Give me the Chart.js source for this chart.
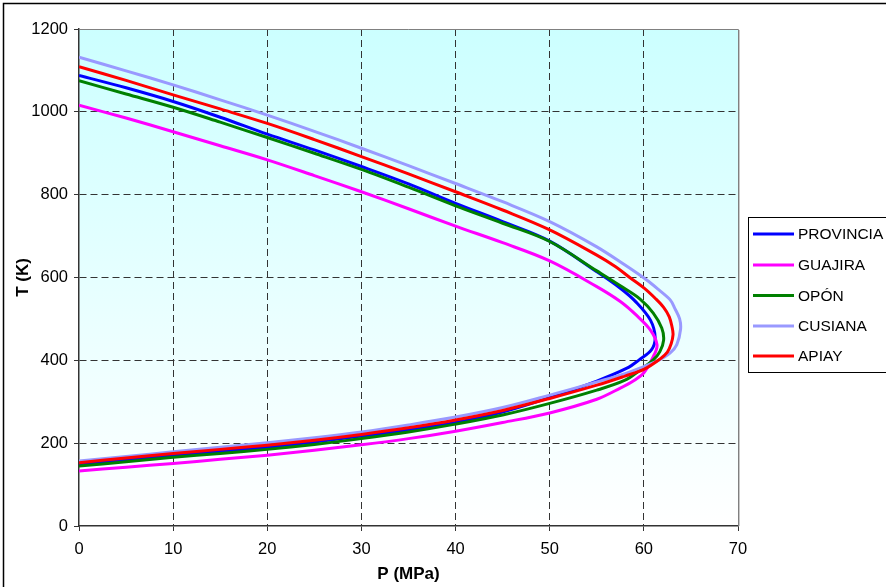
<!DOCTYPE html>
<html>
<head>
<meta charset="utf-8">
<script src="https://cdn.jsdelivr.net/npm/chart.js@4/dist/chart.umd.min.js"></script>
<style>
html,body{margin:0;padding:0;background:#fff;}
#wrap{width:886px;height:587px;}
</style>
</head>
<body>
<div id="wrap"><canvas id="c" width="886" height="587"></canvas></div>
<script>
const seriesNames = ["PROVINCIA", "GUAJIRA", "OPÓN", "CUSIANA", "APIAY"];
const seriesColors = ["#0000FF", "#FF00FF", "#008000", "#9999FF", "#FF0000"];

const provinciaP = [0,5,10,15,20,25,30,35,40,45,50,55,58.2,59.5,60.8,61.2,60.7,59.2,57.5,55,50,45,40,35,30,25,20,15,10,5,0];
const provinciaT = [150,160,170,180,190,203,217,232,250,275,310,350,381,401,425,455,497,540,574,614,688,735,779,826,868,908,946,987,1025,1058,1088];

const guajiraP = [0,5,10,15,20,25,30,35,40,45,50,55,57.5,59,60,61,61.4,60.7,59.2,57.5,55,50,45,40,35,30,25,20,15,10,5,0];
const guajiraT = [133,142,151,161,171,183,196,211,229,250,273,306,333,352,370,409,437,473,509,542,578,640,684,724,766,807,846,884,918,952,985,1016];

const oponP = [0,5,10,15,20,25,30,35,40,45,50,55,58,59.5,61,61.7,62.1,61.9,61,59.6,57.5,55,50,45,40,35,30,25,20,15,10,5,0];
const oponT = [145,155,166,175,185,197,211,227,246,268,296,328,352,375,401,421,449,478,514,548,580,616,687,731,773,818,861,900,938,975,1011,1043,1075];

const cusianaP = [0,5,10,15,20,25,30,35,40,45,50,55,58,60,61.4,62.8,63.5,63.9,63.8,63.3,62.8,61.5,60.3,58,55,50,45,40,35,30,25,20,15,10,5,0];
const cusianaT = [157,168,179,190,201,213,227,244,263,286,316,348,368,385,398,418,438,475,500,525,546,572,594,630,674,735,783,827,870,912,953,992,1029,1065,1099,1132];

const apiayP = [0,5,10,15,20,25,30,35,40,45,50,55,58,60,61.7,62.5,62.9,63.1,63.0,62.7,62.1,61.2,60,58.5,57,55,50,45,40,35,30,25,20,15,10,5,0];
const apiayT = [153,164,175,185,195,207,221,237,256,279,308,340,362,378,403,420,440,462,480,505,528,550,575,600,626,654,715,763,807,850,892,933,972,1007,1041,1076,1109];

const xTickValues = [0,10,20,30,40,50,60,70];
const yTickValues = [0,200,400,600,800,1000,1200];
const xTitle = "P (MPa)";
const yTitle = "T (K)";

const seriesP = [provinciaP, guajiraP, oponP, cusianaP, apiayP];
const seriesT = [provinciaT, guajiraT, oponT, cusianaT, apiayT];

const FONT = "'Liberation Sans', Arial, sans-serif";

const datasets = seriesNames.map((name, i) => ({
  label: name,
  data: seriesP[i].map((p, k) => ({x: p, y: seriesT[i][k]})),
  borderColor: seriesColors[i],
  backgroundColor: seriesColors[i],
  borderWidth: 3,
  pointRadius: 0,
  showLine: true,
  tension: 0.35,
  fill: false,
  order: seriesNames.length - i
}));

const bgPlugin = {
  id: 'bg',
  beforeDraw(chart) {
    const ctx = chart.ctx;
    const a = chart.chartArea;
    ctx.save();
    ctx.fillStyle = '#ffffff';
    ctx.fillRect(0, 0, chart.width, chart.height);
    const g = ctx.createLinearGradient(0, a.top, 0, a.bottom);
    g.addColorStop(0, '#CCFFFF');
    g.addColorStop(1, '#FFFFFF');
    ctx.fillStyle = g;
    ctx.fillRect(a.left, a.top, a.right - a.left, a.bottom - a.top);
    ctx.strokeStyle = '#000000';
    ctx.lineWidth = 1.5;
    ctx.strokeRect(3.5, 3.5, 1000, 1000);
    ctx.restore();
  },
  beforeDatasetsDraw(chart) {
    const ctx = chart.ctx;
    const a = chart.chartArea;
    ctx.save();
    ctx.lineWidth = 1;
    ctx.strokeStyle = '#808080';
    ctx.beginPath();
    ctx.moveTo(a.left, a.top + 0.5);
    ctx.lineTo(a.right + 0.5, a.top + 0.5);
    ctx.lineTo(a.right + 0.5, a.bottom);
    ctx.stroke();
    ctx.strokeStyle = '#c8c8c8';
    ctx.beginPath();
    ctx.moveTo(a.right + 1.5, a.top + 1);
    ctx.lineTo(a.right + 1.5, a.bottom);
    ctx.stroke();
    ctx.restore();
  },
  afterDraw(chart) {
    const ctx = chart.ctx;
    ctx.save();
    ctx.fillStyle = '#ffffff';
    ctx.fillRect(748, 217, 200, 155);
    ctx.strokeStyle = '#000000';
    ctx.lineWidth = 1;
    ctx.strokeRect(748.5, 217.5, 200, 155);
    const ys = [234, 265, 295.5, 326, 356];
    ctx.font = '15.5px ' + FONT;
    ctx.textBaseline = 'middle';
    ctx.textAlign = 'left';
    chart.data.datasets.forEach((ds, i) => {
      ctx.strokeStyle = ds.borderColor;
      ctx.lineWidth = 3;
      ctx.beginPath();
      ctx.moveTo(753, ys[i]);
      ctx.lineTo(794, ys[i]);
      ctx.stroke();
      ctx.fillStyle = '#000000';
      ctx.fillText(ds.label, 798, ys[i] + 1);
    });
    ctx.restore();
  }
};

new Chart(document.getElementById('c'), {
  type: 'scatter',
  data: { datasets },
  options: {
    responsive: false,
    animation: false,
    devicePixelRatio: 1,
    layout: { padding: { left: 0, top: 29, right: 148, bottom: 0 } },
    plugins: { legend: { display: false }, tooltip: { enabled: false } },
    scales: {
      x: {
        type: 'linear',
        min: 0, max: 70,
        afterBuildTicks: s => { s.ticks = xTickValues.map(v => ({value: v})); },
        afterFit: s => { s.height = 61; },
        ticks: { color: '#000', font: { family: FONT, size: 16.5 }, padding: 9, maxRotation: 0, callback: v => String(v) },
        grid: {
          color: c => (c.tick && (c.tick.value === 0 || c.tick.value === 70)) ? 'rgba(0,0,0,0)' : '#333333',
          lineWidth: 1, tickLength: 5, tickColor: '#333333', drawTicks: true
        },
        border: { display: true, color: '#333333', width: 1.5, dash: [7, 4] },
        title: { display: true, text: xTitle, color: '#000', font: { family: FONT, size: 17, weight: 'bold' }, padding: { top: 0, bottom: 2 } }
      },
      y: {
        type: 'linear',
        min: 0, max: 1200,
        afterBuildTicks: s => { s.ticks = yTickValues.map(v => ({value: v})); },
        afterFit: s => { s.width = 79; },
        ticks: { color: '#000', font: { family: FONT, size: 16.5 }, padding: 6, callback: v => String(v) },
        grid: {
          color: c => (c.tick && (c.tick.value === 0 || c.tick.value === 1200)) ? 'rgba(0,0,0,0)' : '#333333',
          lineWidth: 1, tickLength: 5, tickColor: '#333333', drawTicks: true
        },
        border: { display: true, color: '#333333', width: 1.5, dash: [7, 4] },
        title: { display: true, text: yTitle, color: '#000', font: { family: FONT, size: 17, weight: 'bold' }, padding: { top: 13, bottom: 0 } }
      }
    }
  },
  plugins: [bgPlugin]
});
</script>
</body>
</html>
